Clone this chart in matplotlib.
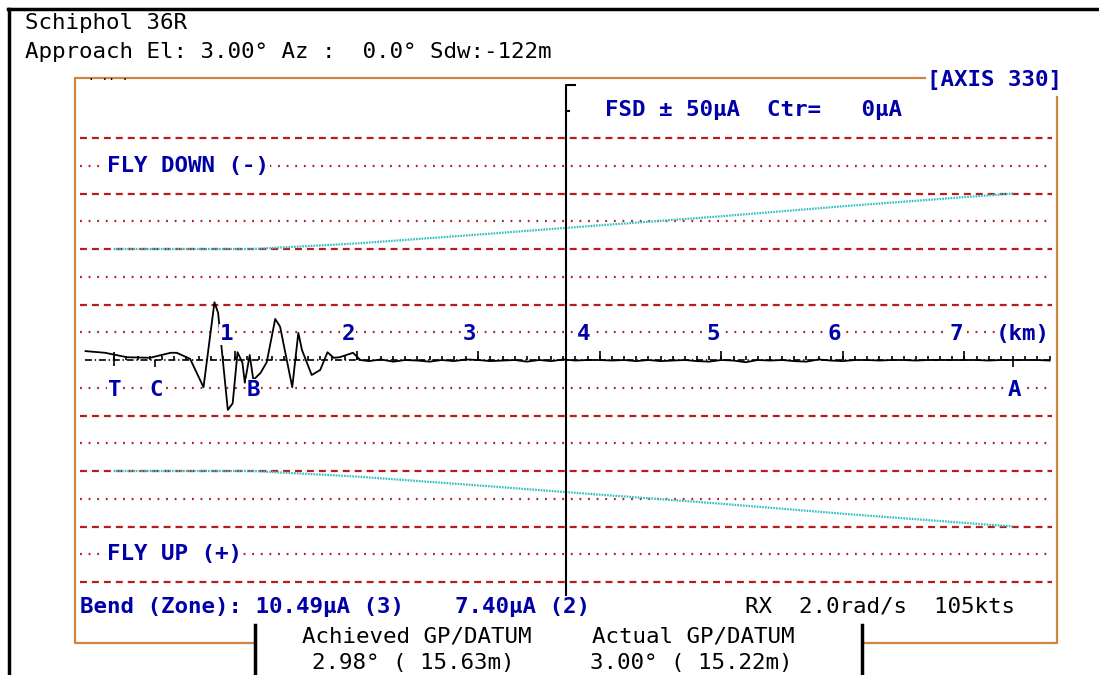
import numpy as np
import matplotlib.pyplot as plt

plt.rcParams['lines.scale_dashes'] = False

# data (km from threshold, deviation in uA)
trace_km = [-0.23, -0.07, 0.11, 0.30, 0.47, 0.52, 0.63, 0.74, 0.83, 0.86, 0.94,
            0.98, 1.02, 1.06, 1.08, 1.12, 1.15, 1.21, 1.26, 1.33, 1.37, 1.47,
            1.52, 1.55, 1.63, 1.70, 1.76, 1.81, 1.86, 1.97, 2.03]
trace_ua = [1.6, 1.3, 0.5, 0.4, 1.3, 1.3, 0.2, -4.9, 10.4, 8.5, -9.0,
            -7.8, 1.4, -0.5, -4.1, 0.9, -3.6, -2.3, -0.4, 7.4, 6.0, -4.9,
            4.9, 1.8, -2.7, -1.8, 1.4, 0.4, 0.5, 1.3, 0.0]
tail_km = np.round(np.arange(2.1, 7.71, 0.1), 1)
tail_ua = [-0.2, 0.1, -0.3, 0.0, -0.1, -0.3, 0.0, -0.2, 0.1, 0.0,
           -0.2, -0.1, 0.0, -0.3, 0.0, -0.2, 0.1, -0.1, 0.0, 0.0,
           -0.1, 0.0, -0.2, 0.0, -0.2, -0.1, 0.0, -0.2, -0.3, 0.0,
           -0.1, -0.4, 0.0, -0.1, 0.0, -0.2, -0.3, 0.1, -0.1, -0.2,
           0.0, 0.0, -0.1, 0.0, 0.0, -0.1, 0.0, 0.0, 0.0, 0.0,
           0.0, -0.1, 0.0, 0.0, 0.0, 0.0, -0.1]

sector_km = [0.0, 1.15, 2.0, 3.0, 3.72, 5.0, 6.0, 7.4]
sector_ua = [20.0, 20.0, 21.0, 22.6, 23.8, 25.9, 27.7, 30.0]

km_ticks = [1, 2, 3, 4, 5, 6, 7]
points = ['T', 'C', 'B', 'A']
points_km = [0.0, 0.34, 1.14, 7.4]
cursor_km = 3.72

BLUE = '#0000a8'
RED = '#b81c1c'
CYAN = '#30c0c0'
ORANGE = '#cd853f'
FONT = 'DejaVu Sans Mono'
FS = 16.2

W, H = 1099, 675
fig = plt.figure(figsize=(W / 100, H / 100), dpi=100)


def px_box(l, t, r, b):
    return [l / W, 1 - b / H, (r - l) / W, (b - t) / H]


ax = fig.add_axes(px_box(80, 82.5, 1052, 637.5))
ax.set_xlim(-0.276, 7.72)
ax.set_ylim(-50, 50)
ax.axis('off')

# grid rows
for lev in range(5, 45, 5):
    for s in (1, -1):
        if lev % 10 == 0:
            ax.axhline(s * lev, color=RED, lw=1.6, ls=(0, (5, 3.6)), zorder=1)
        else:
            ax.axhline(s * lev, color=RED, lw=1.6, ls=(0, (1.3, 4.9)), zorder=1)

# sector limits
ax.plot(sector_km, sector_ua, color=CYAN, lw=1.6, ls=(0, (1.2, 0.8)), zorder=2)
ax.plot(sector_km, [-v for v in sector_ua], color=CYAN, lw=1.6, ls=(0, (1.2, 0.8)), zorder=2)

# zero axis and km ticks
ax.plot([-0.235, 7.71], [0, 0], color='black', lw=1.2, ls=(0, (5, 2, 1, 2)), zorder=3)
minor = np.round(np.arange(0, 7.71, 0.1), 1)
ax.vlines(minor, 0, 0.8, color='black', lw=1.2, zorder=3)
ax.vlines(km_ticks, 0, 1.7, color='black', lw=1.2, zorder=3)
ax.vlines([points_km[0]], -1.0, 1.4, color='black', lw=1.2, zorder=3)
ax.vlines([points_km[1], points_km[3]], -1.3, 0, color='black', lw=1.2, zorder=3)

# receiver trace
ax.plot(list(trace_km) + list(tail_km), list(trace_ua) + list(tail_ua),
        color='black', lw=1.3, zorder=4)

# cursor
ax.plot([cursor_km + 0.075, cursor_km, cursor_km], [49.5, 49.5, -45.2],
        color='black', lw=1.5, zorder=5)
ax.plot([cursor_km, cursor_km + 0.025], [44.9, 44.9], color='black', lw=1.5, zorder=5)

txt = dict(family=FONT, fontsize=FS, fontweight='bold', color=BLUE, va='center_baseline',
           bbox=dict(facecolor='white', edgecolor='none', pad=0.5), zorder=6)
for k in km_ticks:
    lx = k - 0.07
    if abs(lx - cursor_km) < 0.3:
        lx = cursor_km + 0.15
    ax.text(lx, 5, str(k), ha='center', **txt)
ax.text(7.48, 5, '(km)', ha='center', **txt)
for p, k in zip(points, points_km):
    ax.text(k + 0.01, -5, p, ha='center', **txt)

# page decorations in pixel coordinates
ov = fig.add_axes([0, 0, 1, 1])
ov.set_xlim(0, W)
ov.set_ylim(H, 0)
ov.axis('off')

ov.plot([8, W], [9, 9], color='black', lw=2.5)
ov.plot([9, 9], [9, H], color='black', lw=2.5)

ov.plot([925, 75, 75, 255], [78, 78, 643, 643], color=ORANGE, lw=1.6)
ov.plot([865, 1057, 1057], [643, 643, 97], color=ORANGE, lw=1.6)
ov.plot([255, 255], [625, H], color='black', lw=2.5)
ov.plot([862, 862], [625, H], color='black', lw=2.5)

blk = dict(family=FONT, fontsize=FS, color='black', va='center', ha='left')
blu = dict(family=FONT, fontsize=FS, fontweight='bold', color=BLUE, va='center', ha='left',
           bbox=dict(facecolor='white', edgecolor='none', pad=0.5))

ov.text(25, 29, 'Schiphol 36R', **dict(blk, va='baseline'))
ov.text(25, 58, 'Approach El: 3.00\u00b0 Az :  0.0\u00b0 Sdw:-122m', **dict(blk, va='baseline'))
ov.text(88, 80, '\u00b7 \u00b7\u00b7 \u00b7', family=FONT, fontsize=8, color='black', va='center')
ov.text(927, 80, '[AXIS 330]', **blu)
ov.text(605, 110, 'FSD \u00b1 50\u03bcA  Ctr=   0\u03bcA', **blu)
ov.text(107, 166, 'FLY DOWN (-)', **blu)
ov.text(107, 554, 'FLY UP (+)', **blu)
ov.text(80, 607, 'Bend (Zone): 10.49\u03bcA (3)', **blu)
ov.text(455, 607, '7.40\u03bcA (2)', **blu)
ov.text(745, 607, 'RX  2.0rad/s  105kts', **blk)
ov.text(302, 636, 'Achieved GP/DATUM', **blk)
ov.text(592, 636, 'Actual GP/DATUM', **blk)
ov.text(312, 663, '2.98\u00b0 ( 15.63m)', **blk)
ov.text(590, 663, '3.00\u00b0 ( 15.22m)', **blk)

fig.savefig('out.png', dpi=100)
